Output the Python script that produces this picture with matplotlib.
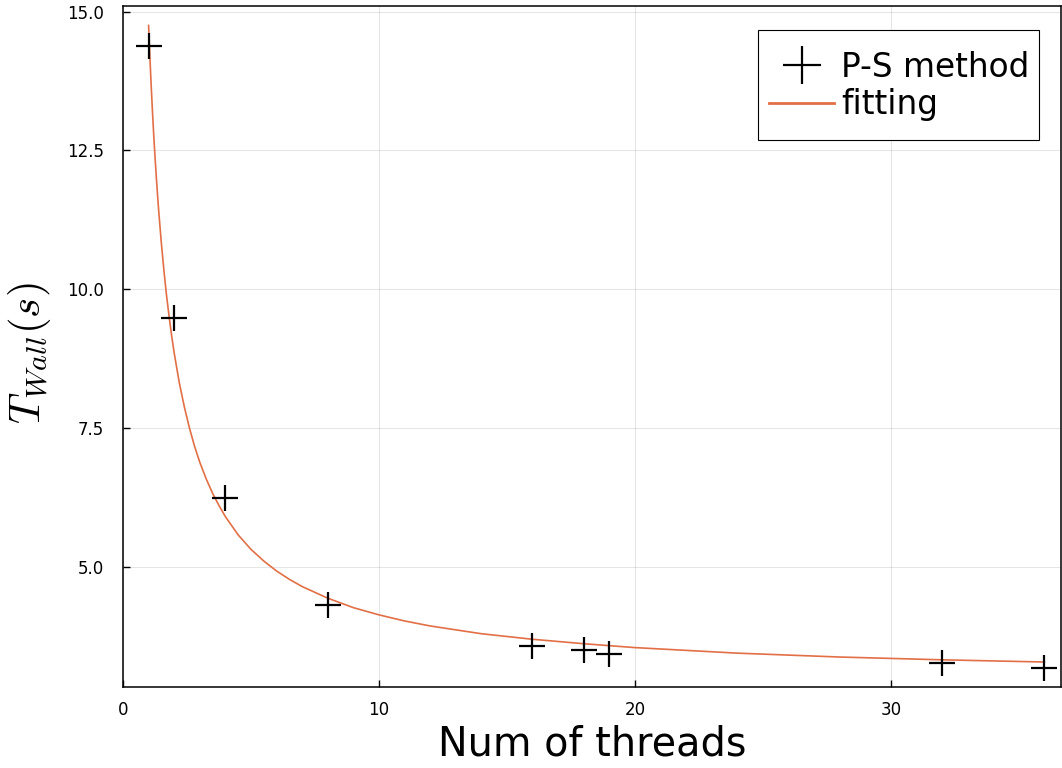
import matplotlib
matplotlib.use("Agg")
import matplotlib.pyplot as plt
from matplotlib.patches import Rectangle
from matplotlib.transforms import IdentityTransform

# measured wall time (P-S method)
threads = [1, 2, 4, 8, 16, 18, 19, 32, 36]
t_wall = [14.38, 9.47, 6.24, 4.30, 3.57, 3.50, 3.42, 3.27, 3.18]

# fitted curve
fit_x = [1, 1.05, 1.1, 1.15, 1.2, 1.25, 1.3, 1.35, 1.4, 1.5, 1.6, 1.7, 1.8,
         1.9, 2.0, 2.2, 2.4, 2.6, 2.8, 3.0, 3.25, 3.5, 3.75, 4, 4.5, 5, 5.5,
         6, 6.5, 7, 8, 9, 10, 11, 12, 14, 16, 18, 20, 24, 28, 32, 36]
fit_y = [14.75, 14.19, 13.68, 13.21, 12.78, 12.39, 12.03, 11.69, 11.38, 10.82,
         10.33, 9.89, 9.51, 9.16, 8.85, 8.31, 7.87, 7.49, 7.16, 6.88, 6.58,
         6.32, 6.10, 5.90, 5.57, 5.31, 5.10, 4.92, 4.77, 4.64, 4.43, 4.26,
         4.13, 4.02, 3.93, 3.79, 3.69, 3.61, 3.54, 3.44, 3.37, 3.32, 3.28]

xticks = [0, 10, 20, 30]
yticks = [5.0, 7.5, 10.0, 12.5, 15.0]

plt.rcParams['mathtext.fontset'] = 'cm'

fig = plt.figure(figsize=(10.62, 7.68), dpi=100)
ax = fig.add_axes([123 / 1062, 1 - 687 / 768, 938 / 1062, 681 / 768])

ax.plot(fit_x, fit_y, color='#E26F46', lw=1.2, label='fitting', zorder=2)
ax.plot(threads, t_wall, ls='none', marker='+', ms=18.5, mew=1.6,
        color='black', label='P-S method', zorder=3)

ax.set_xlim(0, 36.65)
ax.set_ylim(2.83, 15.1)
ax.set_xticks(xticks)
ax.set_yticks(yticks)
ax.set_xticklabels([str(v) for v in xticks])
ax.set_yticklabels(['%.1f' % v for v in yticks])
ax.tick_params(direction='in', length=5, width=1, labelsize=12)
ax.tick_params(axis='x', pad=10)
ax.tick_params(axis='y', pad=13.5)
ax.grid(True, color='black', alpha=0.1, lw=0.8)
for s in ax.spines.values():
    s.set_linewidth(1.1)

ax.set_xlabel('Num of threads', fontsize=28.6, labelpad=4)
ax.set_ylabel(r'$T_{Wall}(s)$', fontsize=31)
ax.yaxis.set_label_coords(-0.075, 0.49)

# legend: tight horizontally, frame drawn separately with more vertical room
h, l = ax.get_legend_handles_labels()
leg = ax.legend(h[::-1], l[::-1], loc='upper right',
                bbox_to_anchor=(1039 / 1062, 1 - 41 / 768), bbox_transform=fig.transFigure,
                fontsize=23.6, frameon=False,
                handlelength=1.98, handletextpad=0.2, borderpad=0.3,
                labelspacing=0.13, borderaxespad=0, markerscale=1.5)
leg.get_lines()[1].set_linewidth(2.0)

fig.canvas.draw()
bb = leg.get_window_extent()
extra = max(0, (110 - bb.height) / 2)
frame = Rectangle((bb.x0 - 2, bb.y0 - extra + 1), bb.width + 2, bb.height + 2 * extra,
                  transform=IdentityTransform(), facecolor='white',
                  edgecolor='black', lw=0.8, zorder=4.9, clip_on=False)
ax.add_patch(frame)

fig.savefig('out.png', dpi=100)
